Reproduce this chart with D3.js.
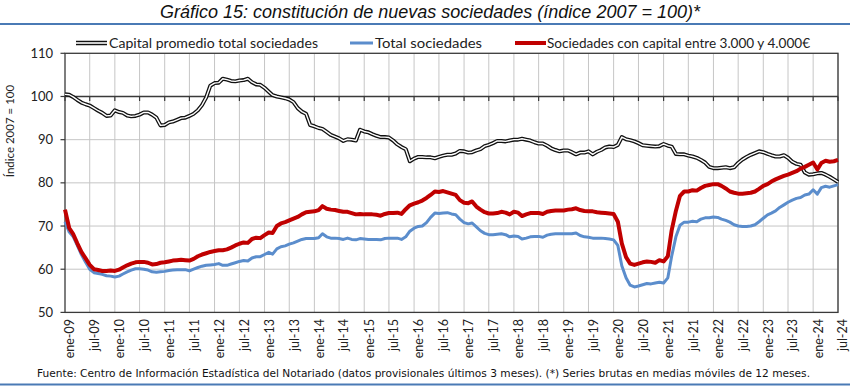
<!DOCTYPE html>
<html><head><meta charset="utf-8">
<script src="https://cdn.jsdelivr.net/npm/d3@7"></script>
<style>body{margin:0;background:#fff;} svg{display:block}</style>
</head><body>
<svg id="c" width="850" height="386"></svg>
<script>
const titleText = "Gráfico 15: constitución de nuevas sociedades (índice 2007 = 100)*";
const yTitle = "Índice 2007 = 100";
const footnote = "Fuente: Centro de Información Estadística del Notariado (datos provisionales últimos 3 meses). (*) Series brutas en medias móviles de 12 meses.";
const seriesNames = ["Capital promedio total sociedades", "Total sociedades", "Sociedades con capital entre 3.000 y 4.000€"];
const yTicks = [50, 60, 70, 80, 90, 100, 110];
const tickLabels = ["ene-09","jul-09","ene-10","jul-10","ene-11","jul-11","ene-12","jul-12","ene-13","jul-13","ene-14","jul-14","ene-15","jul-15","ene-16","jul-16","ene-17","jul-17","ene-18","jul-18","ene-19","jul-19","ene-20","jul-20","ene-21","jul-21","ene-22","jul-22","ene-23","jul-23","ene-24","jul-24"];

// monthly values, ene-09 .. jul-24
const capital = [100.5,100.4,99.9,99.2,98.6,98.2,97.9,97.3,96.7,96.2,
95.5,95.6,96.8,96.4,96.2,95.6,95.4,95.5,95.8,96.3,
96.3,95.8,95.1,93.3,93.4,94.0,94.2,94.6,95.0,95.1,
95.5,96.0,96.8,98.0,99.8,102.5,103.1,103.2,104.1,103.9,
103.6,103.5,103.7,103.8,104.1,103.3,102.8,102.7,102.0,101.1,
100.3,100.0,99.8,99.6,99.3,98.7,97.3,96.5,96.0,93.4,
93.1,92.7,92.5,91.8,91.1,90.7,90.3,89.7,90.1,90.0,
89.8,92.3,91.9,91.7,91.3,90.9,90.6,90.6,90.5,89.8,
88.9,88.3,87.8,85.0,85.6,86.0,86.0,85.9,85.9,85.7,
86.0,86.3,86.5,86.5,86.8,87.4,87.3,87.0,87.1,87.5,
87.8,88.5,88.8,89.2,89.7,89.7,89.6,89.8,90.0,90.0,
90.2,90.0,89.8,89.4,89.1,89.1,88.6,88.0,87.6,87.3,
87.5,87.5,87.1,86.6,87.0,87.0,87.3,86.6,87.2,87.6,
88.2,88.4,88.3,88.8,90.6,90.1,89.9,89.6,89.2,88.7,
88.6,88.5,88.4,88.5,89.0,88.6,88.4,86.7,86.6,86.6,
86.3,86.1,85.8,85.3,84.7,83.7,83.4,83.4,83.5,83.6,
83.4,83.6,84.6,85.4,86.0,86.5,86.9,87.3,87.1,86.7,
86.4,86.1,86.1,86.4,85.8,84.9,84.4,84.2,82.4,81.9,
82.0,82.2,82.3,81.9,81.4,80.8,80.2];

const total = [71.0,68.6,67.6,65.5,63.4,61.6,60.0,59.2,59.0,58.8,
58.5,58.4,58.2,58.4,58.9,59.4,59.8,60.1,60.1,60.0,
59.8,59.4,59.3,59.4,59.5,59.7,59.8,59.9,59.9,59.9,
59.6,60.0,60.4,60.7,60.9,61.0,61.1,61.3,60.9,60.9,
61.2,61.5,61.8,62.0,61.9,62.6,62.9,62.9,63.4,63.9,
63.5,64.7,65.2,65.4,65.8,66.1,66.5,66.9,67.1,67.1,
67.1,67.3,68.2,67.5,67.2,67.2,67.1,66.9,67.2,66.9,
66.8,67.1,67.0,66.9,66.9,66.9,66.8,67.1,67.2,67.2,
67.2,66.9,67.5,68.8,69.5,69.9,70.0,70.8,72.0,73.0,
72.9,73.0,73.1,72.8,72.6,71.6,70.8,70.5,70.7,69.8,
68.9,68.3,68.0,68.0,68.1,68.2,68.0,67.5,67.7,67.6,
67.0,67.2,67.5,67.6,67.6,67.4,67.9,68.1,68.2,68.2,
68.2,68.2,68.2,68.4,67.8,67.5,67.4,67.2,67.2,67.2,
67.1,67.0,66.8,65.5,60.8,58.0,56.3,55.9,56.1,56.4,
56.7,56.6,56.8,57.0,56.8,58.0,63.0,67.5,70.2,70.9,
70.9,71.1,71.0,71.6,71.9,71.9,72.1,72.0,71.6,71.3,
70.9,70.3,70.0,69.9,69.9,70.0,70.3,71.0,71.8,72.6,
73.0,73.5,74.3,74.9,75.5,76.0,76.4,76.6,77.2,77.4,
78.4,77.4,78.9,79.2,79.0,79.3,79.6];

const capital3000 = [73.8,69.5,68.2,66.0,64.0,62.5,61.0,60.0,59.8,59.6,
59.6,59.7,59.6,59.9,60.4,60.9,61.3,61.6,61.7,61.7,
61.5,61.1,61.2,61.5,61.6,61.8,62.0,62.1,62.2,62.1,
62.0,62.4,63.0,63.4,63.7,64.0,64.2,64.4,64.4,64.6,
65.0,65.5,65.9,66.2,66.1,67.0,67.3,67.2,67.9,68.5,
68.4,70.0,70.6,70.9,71.3,71.7,72.1,72.7,73.2,73.3,
73.4,73.7,74.6,74.0,73.8,73.7,73.5,73.3,73.3,73.0,
72.7,72.8,72.7,72.7,72.7,72.6,72.4,72.8,73.0,73.0,
73.1,72.8,73.9,74.8,75.2,75.5,75.9,76.5,77.2,78.0,
77.9,78.1,77.8,77.5,77.2,76.0,75.4,75.3,75.7,74.5,
73.8,73.2,72.9,72.9,73.0,73.3,73.1,72.7,73.3,73.1,
72.3,72.7,73.0,73.0,73.0,72.8,73.3,73.5,73.6,73.6,
73.6,73.8,73.9,74.1,73.7,73.5,73.4,73.4,73.2,73.1,
73.0,72.9,72.8,71.0,66.0,62.8,61.3,61.0,61.3,61.6,
61.8,61.7,61.5,62.1,61.8,63.0,69.0,73.5,77.0,78.0,
78.0,78.3,78.2,78.8,79.3,79.5,79.7,79.7,79.3,78.7,
78.0,77.7,77.5,77.5,77.6,77.7,78.0,78.6,79.3,79.7,
80.3,80.8,81.2,81.6,81.9,82.3,82.7,83.3,83.7,84.2,
84.7,83.1,84.6,85.1,84.9,85.0,85.3];

const svg = d3.select("#c");
const months = d3.timeMonth.range(new Date(2009, 0, 1), new Date(2024, 7, 1));
const L = 65, R = 838, T = 53.3, B = 312.4;
const x = d3.scaleTime().domain([months[0], months[months.length - 1]]).range([L, R]);
const y = d3.scaleLinear().domain([50, 110]).range([B, T]);
const tickDates = tickLabels.map((_, i) => d3.timeMonth.offset(months[0], 6 * i));

const AX = "#3a3a3a", GRID = "#c6c6c6";
const bodyFont = "Lato, 'Open Sans', sans-serif";

// title
svg.append("text").attr("x", 160).attr("y", 18)
  .attr("textLength", 540).attr("lengthAdjust", "spacingAndGlyphs")
  .style("font-family", "'Liberation Sans Narrow','Liberation Sans',Arial,sans-serif")
  .style("font-style", "italic").style("font-size", "18px").attr("fill", "#111")
  .text(titleText);
svg.append("line").attr("x1", 0).attr("x2", 850).attr("y1", 24).attr("y2", 24)
  .attr("stroke", "#4a7ab5").attr("stroke-width", 2);
svg.append("line").attr("x1", 0).attr("x2", 850).attr("y1", 384.5).attr("y2", 384.5)
  .attr("stroke", "#4a7ab5").attr("stroke-width", 2);

// grid
const g = svg.append("g");
g.selectAll(".hg").data(yTicks.filter(v => v > 50 && v < 100)).join("line")
  .attr("x1", L).attr("x2", R).attr("y1", d => y(d)).attr("y2", d => y(d))
  .attr("stroke", GRID).attr("stroke-width", 1);
g.selectAll(".vg").data(tickDates.slice(1)).join("line")
  .attr("x1", d => x(d)).attr("x2", d => x(d)).attr("y1", T).attr("y2", B)
  .attr("stroke", GRID).attr("stroke-width", 1);

// plot border + axes
g.append("rect").attr("x", L).attr("y", T).attr("width", R - L).attr("height", B - T)
  .attr("fill", "none").attr("stroke", AX).attr("stroke-width", 1.3);
g.append("line").attr("x1", L).attr("x2", R).attr("y1", y(100)).attr("y2", y(100))
  .attr("stroke", AX).attr("stroke-width", 1.3);
g.selectAll(".xt").data(tickDates).join("line")
  .attr("x1", d => x(d)).attr("x2", d => x(d)).attr("y1", y(100)).attr("y2", y(100) + 4.5)
  .attr("stroke", AX).attr("stroke-width", 1.2);
g.selectAll(".yt").data(yTicks).join("line")
  .attr("x1", L - 4.5).attr("x2", L).attr("y1", d => y(d)).attr("y2", d => y(d))
  .attr("stroke", AX).attr("stroke-width", 1.2);

// y labels
svg.selectAll(".yl").data(yTicks).join("text")
  .attr("x", 53).attr("y", d => y(d)).attr("dy", "0.35em").attr("text-anchor", "end")
  .style("font-family", bodyFont).style("font-size", "13px").attr("fill", "#222")
  .text(d => d);
svg.append("text").attr("transform", `translate(14,${131}) rotate(-90)`)
  .attr("text-anchor", "middle").style("font-family", bodyFont).style("font-size", "11.5px")
  .attr("fill", "#222").text(yTitle);

// x labels
svg.selectAll(".xl").data(tickDates).join("text")
  .attr("transform", (d, i) => `translate(${x(d) + 5},319) rotate(-90)`)
  .attr("text-anchor", "end").attr("dy", "0.35em")
  .style("font-family", bodyFont).style("font-size", "12.5px").attr("fill", "#222")
  .text((d, i) => tickLabels[i]);

// lines
const line = d3.line().x((d, i) => x(months[i])).y(d => y(d));
const pl = svg.append("g").attr("fill", "none").attr("stroke-linejoin", "round");
pl.append("path").datum(capital).attr("d", line).attr("stroke", "#111").attr("stroke-width", 4);
pl.append("path").datum(capital).attr("d", line).attr("stroke", "#fff").attr("stroke-width", 1.4);
pl.append("path").datum(total).attr("d", line).attr("stroke", "#5b8dcc").attr("stroke-width", 3);
pl.append("path").datum(capital3000).attr("d", line).attr("stroke", "#c00000").attr("stroke-width", 4);

// legend
const ly = 43;
const leg = svg.append("g").style("font-family", bodyFont).style("font-size", "13px").attr("fill", "#222");
leg.append("line").attr("x1", 76).attr("x2", 107).attr("y1", ly).attr("y2", ly).attr("stroke", "#111").attr("stroke-width", 4.5);
leg.append("line").attr("x1", 76).attr("x2", 107).attr("y1", ly).attr("y2", ly).attr("stroke", "#fff").attr("stroke-width", 1.6);
leg.append("text").attr("x", 109).attr("y", ly).attr("dy", "0.35em").attr("textLength", 209).attr("lengthAdjust", "spacingAndGlyphs").text(seriesNames[0]);
leg.append("line").attr("x1", 350).attr("x2", 373).attr("y1", ly).attr("y2", ly).attr("stroke", "#5b8dcc").attr("stroke-width", 3);
leg.append("text").attr("x", 375).attr("y", ly).attr("dy", "0.35em").attr("textLength", 107).attr("lengthAdjust", "spacingAndGlyphs").text(seriesNames[1]);
leg.append("line").attr("x1", 515).attr("x2", 546).attr("y1", ly).attr("y2", ly).attr("stroke", "#c00000").attr("stroke-width", 4);
leg.append("text").attr("x", 547).attr("y", ly).attr("dy", "0.35em").attr("textLength", 263).attr("lengthAdjust", "spacingAndGlyphs").text(seriesNames[2]);

// footnote
svg.append("text").attr("x", 37).attr("y", 377).attr("textLength", 773).attr("lengthAdjust", "spacingAndGlyphs")
  .style("font-family", "'DejaVu Sans','Liberation Sans',sans-serif").style("font-size", "11px").attr("fill", "#111")
  .text(footnote);
</script>
</body></html>
